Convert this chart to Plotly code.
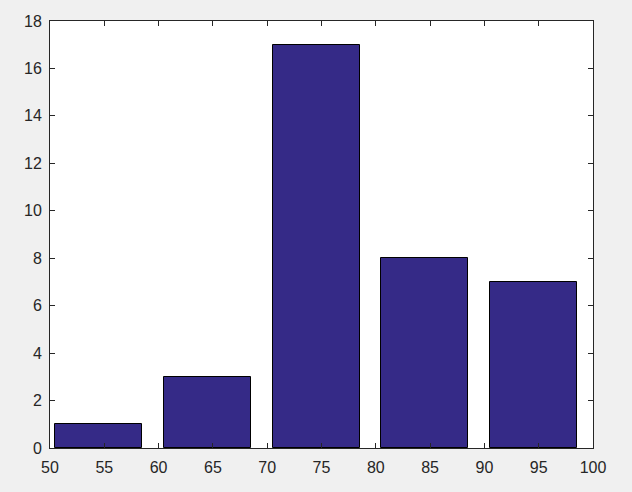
import plotly.graph_objects as go

# bin centres and counts
centers = [54.5, 64.5, 74.5, 84.5, 94.5]
counts = [1, 3, 17, 8, 7]
x_ticks = [50, 55, 60, 65, 70, 75, 80, 85, 90, 95, 100]
y_ticks = [0, 2, 4, 6, 8, 10, 12, 14, 16, 18]

fig = go.Figure()

fig.add_trace(go.Bar(
    x=centers,
    y=counts,
    width=8,
    marker=dict(color='#352a87', line=dict(color='black', width=1)),
))

axis_style = dict(
    showline=True, linecolor='#262626', linewidth=1, mirror='ticks',
    ticks='inside', ticklen=5, tickcolor='#262626',
    showgrid=False, zeroline=False,
    tickfont=dict(family='Liberation Sans, Arial, sans-serif', size=16, color='#262626'),
)

fig.update_layout(
    width=632, height=492,
    margin=dict(l=50, r=39, t=21, b=44),
    paper_bgcolor='#f0f0f0',
    plot_bgcolor='white',
    showlegend=False,
    bargap=0,
    xaxis=dict(range=[50, 100], tickvals=x_ticks, ticklabelstandoff=5, **axis_style),
    yaxis=dict(range=[0, 18], tickvals=y_ticks, ticklabelstandoff=4, **axis_style),
)

# drop the page margin so the figure fills the window
fig.write_html("out.html", config={'displayModeBar': False},
               post_script="document.body.style.margin='0';")
